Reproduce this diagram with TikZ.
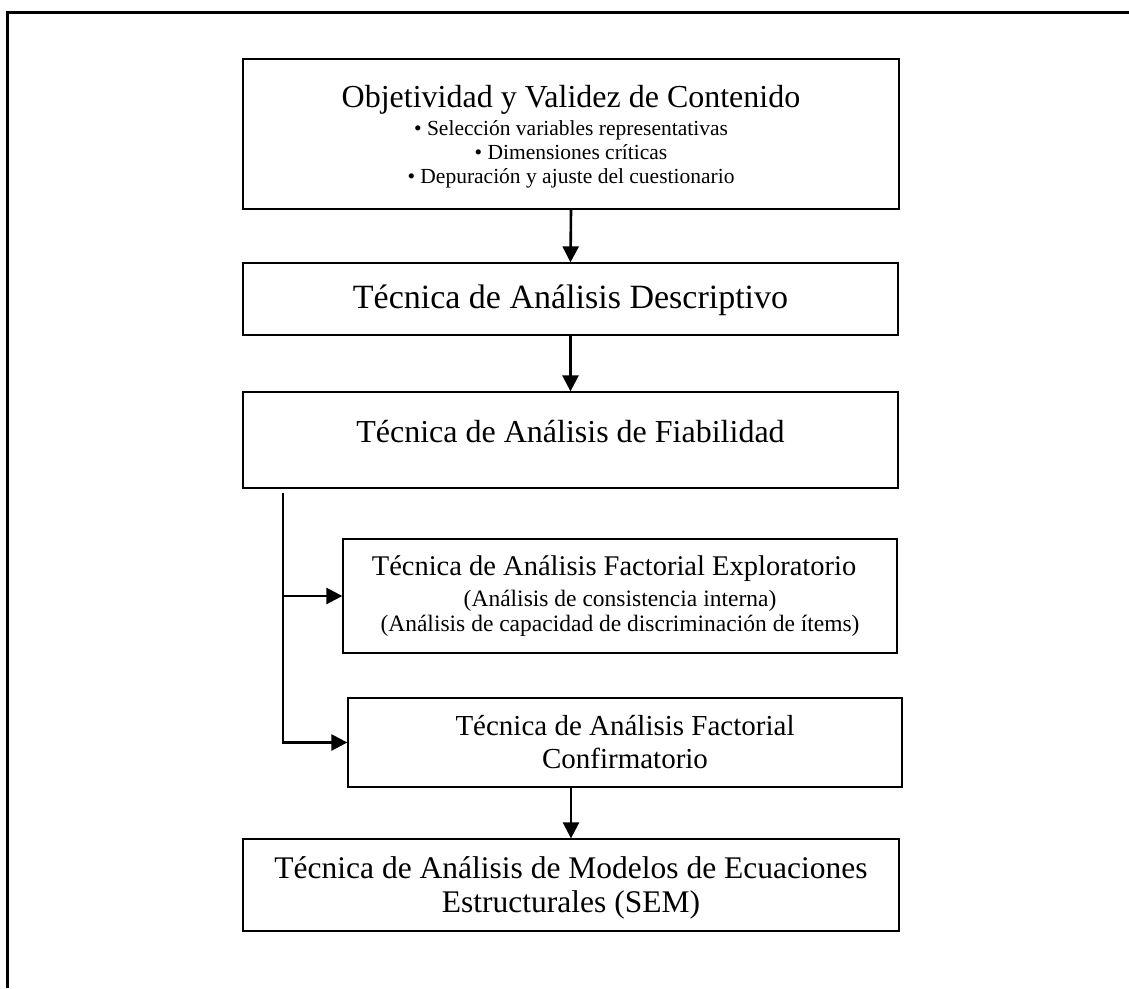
\documentclass[tikz,border=0pt]{standalone}
\usepackage{fontspec}
\setmainfont{Liberation Serif}
\usetikzlibrary{arrows.meta}

\newcommand{\fs}[1]{\fontsize{#1}{#1}\selectfont}

\begin{document}
\begin{tikzpicture}[x=1pt,y=-1pt,
  box/.style={draw, line width=1.3pt, inner sep=0pt},
  txt/.style={anchor=base, inner sep=0pt},
  link/.style={line width=2.6pt, -{Triangle[length=16pt,width=16pt]}},
  frame/.style={line width=3pt}]
  \useasboundingbox (0,0) rectangle (1129,988);

  % outer frame (left and top edges)
  \draw[frame] (7,988) -- (7,12) -- (1129,12);

  % boxes
  \node[box, minimum width=656pt, minimum height=150pt] (b1) at (571,134) {};
  \node[box, minimum width=655pt, minimum height=72pt]  (b2) at (570.5,299) {};
  \node[box, minimum width=655pt, minimum height=96pt]  (b3) at (570.5,440) {};
  \node[box, minimum width=554pt, minimum height=114pt] (b4) at (620,596) {};
  \node[box, minimum width=554pt, minimum height=89pt]  (b5) at (625,742.5) {};
  \node[box, minimum width=656pt, minimum height=92pt]  (b6) at (571,885) {};

  % texts
  \node[txt] (t1a) at (571,107) {\fs{32}Objetividad y Validez de Contenido};
  \node[txt] (t1b) at (571,135) {\fs{21.5}• Selección variables representativas};
  \node[txt] (t1c) at (571,159) {\fs{21.5}• Dimensiones críticas};
  \node[txt] (t1d) at (571,183) {\fs{21.5}• Depuración y ajuste del cuestionario};

  \node[txt] (t2) at (570.5,308) {\fs{34}Técnica de Análisis Descriptivo};
  \node[txt] (t3) at (570.5,442) {\fs{32}Técnica de Análisis de Fiabilidad};

  \node[txt] (t4a) at (614,575) {\fs{28.5}Técnica de Análisis Factorial Exploratorio};
  \node[txt] (t4b) at (620,606) {\fs{23.5}(Análisis de consistencia interna)};
  \node[txt] (t4c) at (620,631) {\fs{23.5}(Análisis de capacidad de discriminación de ítems)};

  \node[txt] (t5a) at (625,735) {\fs{29}Técnica de Análisis Factorial};
  \node[txt] (t5b) at (625,768) {\fs{29}Confirmatorio};

  \node[txt] (t6a) at (571,878) {\fs{31.5}Técnica de Análisis de Modelos de Ecuaciones};
  \node[txt] (t6b) at (571,912) {\fs{31.5}Estructurales (SEM)};

  % connectors
  \coordinate (split) at (283,493);
  \draw[link] (b1.south) -- (b2.north);
  \draw[link] (b2.south) -- (b3.north);
  \draw[link] (split) |- (b5.west);
  \draw[link] (split |- b4.west) -- (b4.west);
  \draw[link] (b5.south -| b6.north) -- (b6.north);
\end{tikzpicture}
\end{document}
